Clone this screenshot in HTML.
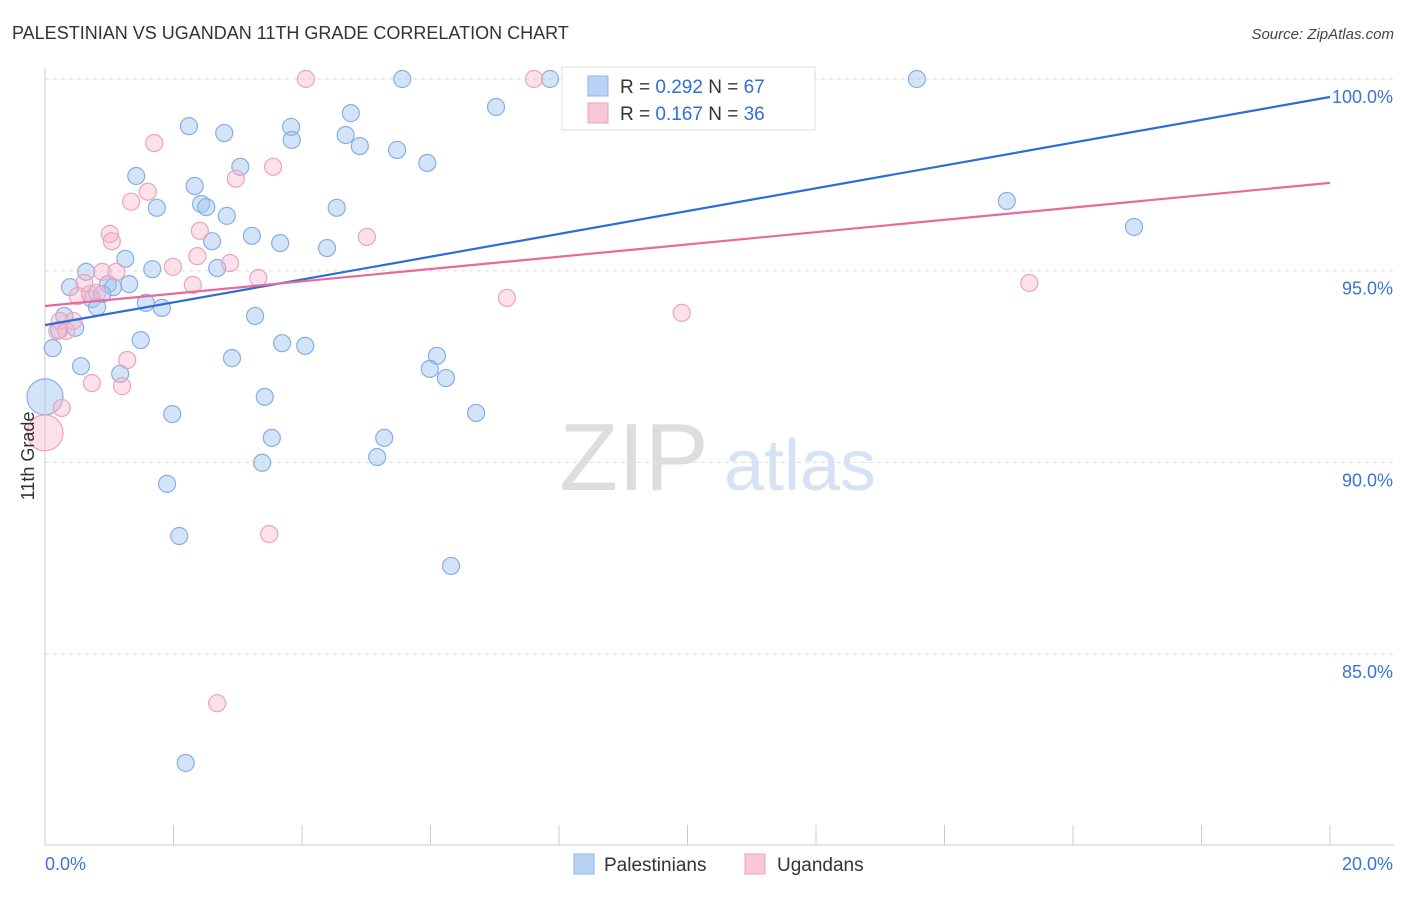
<!DOCTYPE html>
<html><head><meta charset="utf-8">
<style>
body{margin:0;background:#fff;font-family:"Liberation Sans",sans-serif;}
svg text{font-family:"Liberation Sans",sans-serif;}
</style></head>
<body>
<svg id="chart" width="1406" height="892" xmlns="http://www.w3.org/2000/svg">
<text x="12" y="39" font-size="18" fill="#333">PALESTINIAN VS UGANDAN 11TH GRADE CORRELATION CHART</text>
<text x="1394" y="39" font-size="15" fill="#444" text-anchor="end" font-style="italic">Source: ZipAtlas.com</text>
<g>
<text x="634" y="490" font-size="96" fill="#ddd" text-anchor="middle" font-family="Liberation Serif,serif">ZIP</text>
<text x="800" y="490" font-size="72" fill="#d5e3f5" text-anchor="middle">atlas</text>
</g>
<g id="grid"></g>
<g id="axes"></g>
<g id="pts"></g>
<g id="trends"></g>
<text transform="translate(34,456) rotate(-90)" font-size="18" fill="#333" text-anchor="middle">11th Grade</text>
<g>
<rect x="562" y="67" width="253" height="63" fill="#fff" stroke="#ddd"/>
<rect x="588" y="76" width="20" height="20" fill="#b8d3f4" stroke="#8db4e8"/>
<text x="620" y="93" font-size="19" fill="#333">R = <tspan fill="#2f6fd6">0.292</tspan>   N = <tspan fill="#2f6fd6">67</tspan></text>
<rect x="588" y="103" width="20" height="20" fill="#f9c8d7" stroke="#f0a0bb"/>
<text x="620" y="120" font-size="19" fill="#333">R =  <tspan fill="#2f6fd6">0.167</tspan>   N = <tspan fill="#2f6fd6">36</tspan></text>
</g>
<g>
<rect x="574" y="854" width="20" height="20" fill="#b8d3f4" stroke="#8db4e8"/>
<text x="604" y="871" font-size="19" fill="#333">Palestinians</text>
<rect x="745" y="854" width="20" height="20" fill="#f9c8d7" stroke="#f0a0bb"/>
<text x="777" y="871" font-size="19" fill="#333">Ugandans</text>
</g>
</svg>
<script>
const blueX=[5.56,7.86,11.80,13.57,7.02,2.24,3.83,2.79,4.76,4.68,3.84,4.90,5.48,5.95,3.04,1.42,2.33,1.74,2.43,2.51,2.83,4.54,14.97,16.95,3.22,2.60,3.66,4.39,1.25,0.64,1.67,2.68,0.39,0.98,1.06,1.31,0.73,0.89,1.57,1.82,0.81,0.30,3.27,0.22,0.47,1.49,0.12,3.69,4.05,2.91,6.10,0.56,5.99,6.24,1.17,0,3.42,1.98,6.71,3.53,5.28,3.38,5.17,1.90,2.09,6.32,2.19];
const blueY=[100,100,100,100,99.27,98.77,98.75,98.59,99.11,98.54,98.41,98.25,98.15,97.81,97.71,97.47,97.21,96.64,96.74,96.66,96.43,96.64,96.82,96.14,95.91,95.77,95.72,95.59,95.31,94.97,95.04,95.07,94.57,94.65,94.57,94.65,94.26,94.39,94.16,94.03,94.05,93.82,93.82,93.45,93.51,93.19,92.98,93.11,93.04,92.72,92.78,92.51,92.44,92.20,92.31,91.71,91.71,91.26,91.29,90.64,90.64,89.99,90.14,89.44,88.08,87.30,82.16];
const pinkX=[4.06,7.61,1.70,3.55,2.97,1.60,1.34,1.01,1.04,2.41,5.01,2.37,1.99,2.88,0.89,1.11,3.32,0.61,2.30,0.51,0.70,7.19,9.91,15.32,0.44,0.19,1.28,0.73,1.20,0.26,0,3.49,2.68,0.81,0.23,0.33];
const pinkY=[100,100,98.33,97.71,97.40,97.06,96.80,95.96,95.77,96.04,95.88,95.38,95.10,95.20,94.97,94.97,94.81,94.68,94.63,94.34,94.39,94.29,93.90,94.68,93.69,93.43,92.67,92.07,91.99,91.42,90.77,88.13,83.72,94.42,93.69,93.43];
const yTicks=[85,90,95,100];
const yTickLabels=["85.0%","90.0%","95.0%","100.0%"];
const blueTrend=[93.58,99.53];
const pinkTrend=[94.08,97.29];
const NS="http://www.w3.org/2000/svg";
const X0=45,X1=1330,Y100=79,PPY=38.34;
function sx(v){return X0+(X1-X0)*v/20;}
function sy(v){return Y100+(100-v)*PPY;}
function mk(t,a,p){const e=document.createElementNS(NS,t);for(const k in a)e.setAttribute(k,a[k]);p.appendChild(e);return e;}
const grid=document.getElementById('grid'),axes=document.getElementById('axes'),pts=document.getElementById('pts'),tr=document.getElementById('trends');
yTicks.forEach((t,i)=>{
 const l=mk('line',{x1:X0,x2:1394,y1:sy(t),y2:sy(t),stroke:'#ddd','stroke-dasharray':'4,4'},grid);
 
 
 const tx=mk('text',{x:1393,y:sy(t)+24,'font-size':18,fill:'#3b74d6','text-anchor':'end'},grid);
 tx.textContent=yTickLabels[i];
 
 
});
const ax=mk('line',{x1:X0,x2:X0,y1:68,y2:845,stroke:'#ccc'},axes);


const bx=mk('line',{x1:X0,x2:1394,y1:845,y2:845,stroke:'#ccc'},axes);


for(let i=0;i<=10;i++){
 const t=mk('line',{x1:sx(i*2),x2:sx(i*2),y1:825,y2:845,stroke:'#ccc'},axes);
 
 
}
const xl0=mk('text',{x:45,y:870,'font-size':18,fill:'#3b74d6'},axes);xl0.textContent='0.0%';


const xl1=mk('text',{x:1393,y:870,'font-size':18,fill:'#3b74d6','text-anchor':'end'},axes);xl1.textContent='20.0%';


function dots(xs,ys,fill,stroke,name){
 xs.forEach((x,i)=>{
  const big=(x===0);
  const c=mk('circle',{cx:sx(x),cy:sy(ys[i]),r:big?18:8.5,fill:fill,stroke:stroke,'stroke-width':1.2},pts);
  
  
 });
}
dots(blueX,blueY,'rgba(160,196,240,0.45)','#86aee6','palestinian-point');
dots(pinkX,pinkY,'rgba(247,180,202,0.4)','#eea2bc','ugandan-point');
const bl=mk('line',{x1:sx(0),y1:sy(blueTrend[0]),x2:sx(20),y2:sy(blueTrend[1]),stroke:'#2a6fd6','stroke-width':2.2},tr);


const pl=mk('line',{x1:sx(0),y1:sy(pinkTrend[0]),x2:sx(20),y2:sy(pinkTrend[1]),stroke:'#e86a98','stroke-width':2.2},tr);


</script>
</body></html>
